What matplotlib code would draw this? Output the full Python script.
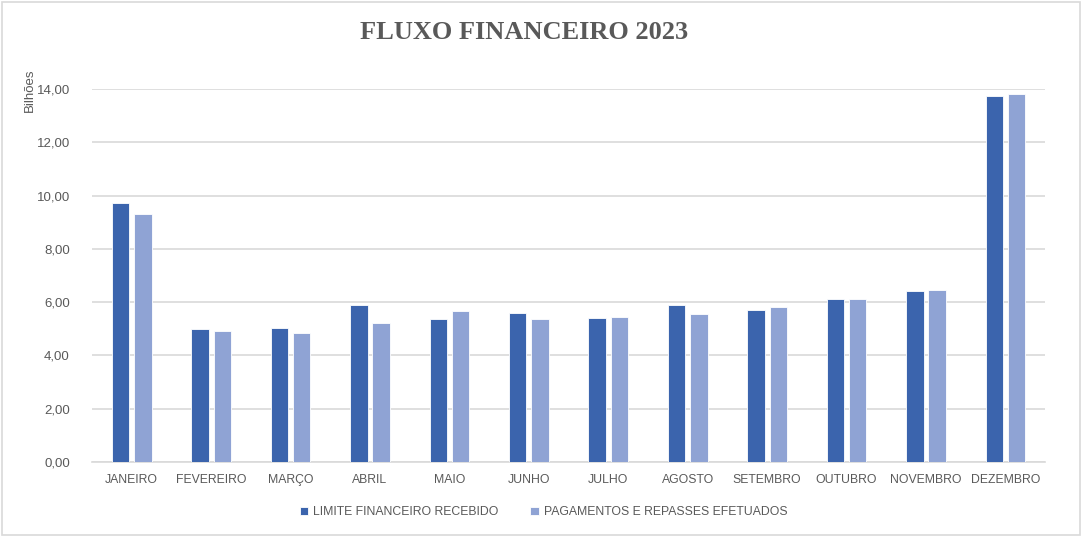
import matplotlib.pyplot as plt
import numpy as np
from matplotlib.patches import Rectangle

meses = ["JANEIRO", "FEVEREIRO", "MARÇO", "ABRIL", "MAIO", "JUNHO", "JULHO",
         "AGOSTO", "SETEMBRO", "OUTUBRO", "NOVEMBRO", "DEZEMBRO"]
limite_recebido = [9.72, 5.00, 5.03, 5.89, 5.38, 5.58, 5.41, 5.89, 5.69, 6.13, 6.43, 13.73]
pagamentos_repasses = [9.32, 4.91, 4.85, 5.23, 5.66, 5.38, 5.44, 5.55, 5.83, 6.13, 6.45, 13.82]
yticks = [0, 2, 4, 6, 8, 10, 12, 14]

plt.rcParams['font.family'] = ['Liberation Sans', 'DejaVu Sans']
txt = '#595959'

fig = plt.figure(figsize=(10.83, 5.37), dpi=100)
ax = fig.add_axes([0.085, 0.140, 0.880, 0.694])

x = np.arange(len(meses))
w = 0.22
ax.bar(x - 0.14, limite_recebido, w, color='#3B64AD', edgecolor='white', linewidth=0.6,
       label='LIMITE FINANCEIRO RECEBIDO', zorder=3)
ax.bar(x + 0.14, pagamentos_repasses, w, color='#8FA3D4', edgecolor='white', linewidth=0.6,
       label='PAGAMENTOS E REPASSES EFETUADOS', zorder=3)

ax.set_xlim(-0.5, len(meses) - 0.5)
ax.set_ylim(0, 14)
ax.set_yticks(yticks)
ax.set_yticklabels([f"{v:.2f}".replace('.', ',') for v in yticks], color=txt, fontsize=9.5)
ax.set_xticks(x)
ax.set_xticklabels(meses, color=txt, fontsize=8.8)
ax.tick_params(axis='x', length=0, pad=9)
ax.tick_params(axis='y', length=0, pad=16)
ax.grid(axis='y', color='#D9D9D9', linewidth=1.2, zorder=0)
for s in ['top', 'right', 'left']:
    ax.spines[s].set_visible(False)
ax.spines['bottom'].set_color('#D9D9D9')
ax.spines['bottom'].set_linewidth(1.2)

fig.text(0.028, 0.832, 'Bilhões', rotation=90, ha='center', va='center', color=txt, fontsize=9.5)
fig.text(0.484, 0.94, 'FLUXO FINANCEIRO 2023', ha='center', va='center', color=txt,
         fontsize=19, fontweight='bold', family='Liberation Serif')

fig.legend(loc='center', bbox_to_anchor=(0.502, 0.046), ncol=2, frameon=False,
           fontsize=8.8, labelcolor=txt, handlelength=0.7, handleheight=0.7,
           handletextpad=0.4, columnspacing=2.6)

fig.patches.append(Rectangle((0.002, 0.004), 0.995, 0.992, transform=fig.transFigure,
                             fill=False, edgecolor='#D9D9D9', linewidth=1.2))

fig.savefig('out.png', dpi=100)
